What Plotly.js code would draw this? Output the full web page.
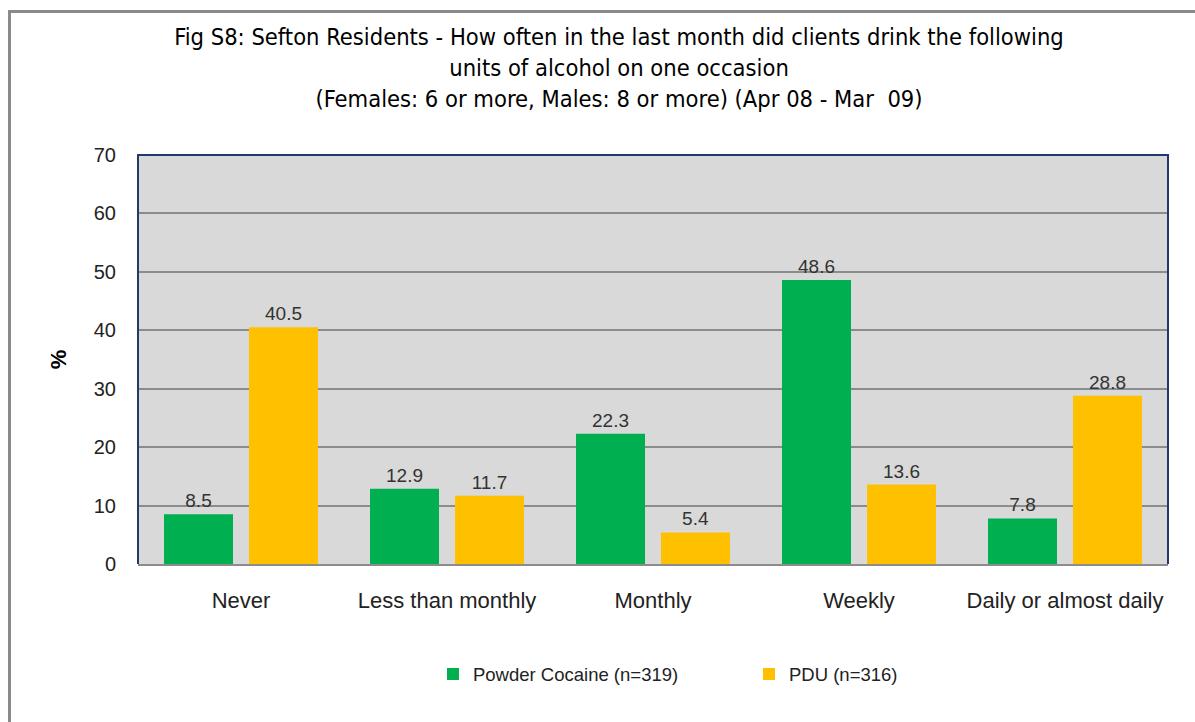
<!DOCTYPE html>
<html>
<head>
<meta charset="utf-8">
<script src="https://cdn.plot.ly/plotly-3.0.1.min.js"></script>
<style>
  html, body { margin: 0; padding: 0; background: #fff; overflow: hidden; }
  #chart { width: 1195px; height: 722px; position: relative; }
  #frame { position: absolute; left: 8px; top: 10px; width: 1300px; height: 900px;
           border-top: 3px solid #8a8a8a; border-left: 3px solid #8a8a8a; pointer-events: none; box-sizing: border-box; }
</style>
</head>
<body>
<div id="chart"></div>
<div id="frame"></div>
<script>
const categories = ["Never", "Less than monthly", "Monthly", "Weekly", "Daily or almost daily"];
const cocaineName = "Powder Cocaine (n=319)";
const cocaineValues = [8.5, 12.9, 22.3, 48.6, 7.8];
const pduName = "PDU (n=316)";
const pduValues = [40.5, 11.7, 5.4, 13.6, 28.8];
const yTicks = [0, 10, 20, 30, 40, 50, 60, 70];

const baseFont = "Liberation Sans, Arial, sans-serif";
const narrowFont = "Liberation Sans Narrow, DejaVu Sans Condensed, Liberation Sans, sans-serif";

const traces = [
  { type: "bar", name: cocaineName, x: categories, y: cocaineValues,
    marker: { color: "#00B050" }, text: cocaineValues.map(v => v.toFixed(1)),
    textposition: "outside", cliponaxis: false,
    textfont: { family: baseFont, size: 19, color: "#333333" }, hoverinfo: "x+y" },
  { type: "bar", name: pduName, x: categories, y: pduValues,
    marker: { color: "#FFC000" }, text: pduValues.map(v => v.toFixed(1)),
    textposition: "outside", cliponaxis: false,
    textfont: { family: baseFont, size: 19, color: "#333333" }, hoverinfo: "x+y" }
];

const layout = {
  width: 1195, height: 722,
  margin: { l: 138, r: 27, t: 155, b: 158, pad: 0 },
  paper_bgcolor: "#ffffff",
  plot_bgcolor: "#D9D9D9",
  barmode: "group",
  bargap: 0.175,
  bargroupgap: 0.188,
  title: {
    text: "Fig S8: Sefton Residents - How often in the last month did clients drink the following<br>units of alcohol on one occasion<br>(Females: 6 or more, Males: 8 or more) (Apr 08 - Mar  09)",
    font: { family: narrowFont, size: 23.5, color: "#000000" },
    xref: "container", x: 0.518, xanchor: "center",
    yref: "container", y: 0.937, yanchor: "top"
  },
  xaxis: {
    type: "category",
    tickfont: { family: baseFont, size: 22, color: "#222222" },
    ticks: "", ticklabelstandoff: 16,
    showline: true, linecolor: "#8c8c8c", linewidth: 2,
    showgrid: false, automargin: false
  },
  yaxis: {
    range: [0, 70], tickvals: yTicks, ticktext: yTicks.map(String),
    tickfont: { family: baseFont, size: 20, color: "#222222" },
    ticks: "", ticklabelstandoff: 21,
    showgrid: true, gridcolor: "#8c8c8c", gridwidth: 2,
    zeroline: false, showline: false, automargin: false,
    title: { text: "<b>%</b>", font: { family: baseFont, size: 22, color: "#000" }, standoff: 21 }
  },
  shapes: [
    { type: "path", xref: "paper", yref: "paper", path: "M 0,0 L 0,1 L 1,1 L 1,0",
      line: { color: "#1F3A6E", width: 2 }, layer: "above" }
  ],
  legend: {
    orientation: "h", x: 0.2864, xanchor: "left", y: -0.27, yanchor: "middle",
    font: { family: baseFont, size: 18.5, color: "#222222" },
    entrywidth: 271, entrywidthmode: "pixels",
    bgcolor: "rgba(0,0,0,0)"
  },
  showlegend: true
};

Plotly.newPlot("chart", traces, layout, { displayModeBar: false, staticPlot: true });
</script>
</body>
</html>
